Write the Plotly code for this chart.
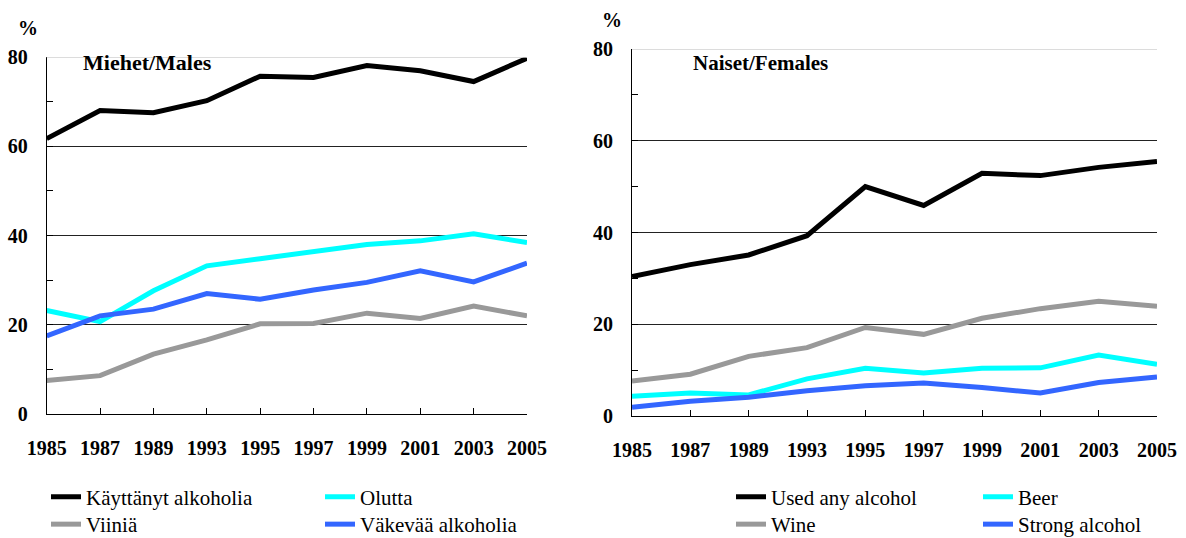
import plotly.graph_objects as go

years = ["1985", "1987", "1989", "1993", "1995", "1997", "1999", "2001", "2003", "2005"]

# Males (Miehet)
m_any = [61.7, 68.0, 67.5, 70.2, 75.7, 75.4, 78.1, 76.9, 74.5, 79.7]
m_beer = [23.2, 20.7, 27.6, 33.2, 34.8, 36.5, 38.0, 38.8, 40.4, 38.4]
m_wine = [7.5, 8.6, 13.4, 16.6, 20.2, 20.3, 22.6, 21.4, 24.2, 22.0]
m_strong = [17.5, 22.0, 23.5, 27.0, 25.7, 27.8, 29.5, 32.1, 29.6, 33.8]

# Females (Naiset)
f_any = [30.4, 33.0, 35.1, 39.3, 50.0, 45.9, 52.9, 52.4, 54.2, 55.5]
f_beer = [4.3, 5.0, 4.6, 8.1, 10.4, 9.4, 10.4, 10.5, 13.3, 11.3]
f_wine = [7.6, 9.1, 13.0, 14.9, 19.3, 17.8, 21.3, 23.4, 25.0, 23.9]
f_strong = [1.9, 3.2, 4.1, 5.5, 6.6, 7.2, 6.2, 5.0, 7.3, 8.5]

labels_fi = ["Käyttänyt alkoholia", "Olutta", "Viiniä", "Väkevää alkoholia"]
labels_en = ["Used any alcohol", "Beer", "Wine", "Strong alcohol"]

C_ANY = "#000000"
C_BEER = "#00FFFF"
C_WINE = "#999999"
C_STRONG = "#3366FF"

SERIF = "Liberation Serif, Times New Roman, serif"
W, H = 1186, 538

fig = go.Figure()

def add(x, y, name, color, xa, ya, legend):
    fig.add_trace(go.Scatter(
        x=x, y=y, name=name, mode="lines",
        line=dict(color=color, width=5),
        xaxis=xa, yaxis=ya, legend=legend, showlegend=True,
        hoverinfo="skip",
    ))

# Left (males)
add(years, m_any, labels_fi[0], C_ANY, "x", "y", "legend")
add(years, m_beer, labels_fi[1], C_BEER, "x", "y", "legend2")
add(years, m_wine, labels_fi[2], C_WINE, "x", "y", "legend3")
add(years, m_strong, labels_fi[3], C_STRONG, "x", "y", "legend4")
# Right (females)
add(years, f_any, labels_en[0], C_ANY, "x2", "y2", "legend5")
add(years, f_beer, labels_en[1], C_BEER, "x2", "y2", "legend6")
add(years, f_wine, labels_en[2], C_WINE, "x2", "y2", "legend7")
add(years, f_strong, labels_en[3], C_STRONG, "x2", "y2", "legend8")

tickfont = dict(family=SERIF, size=20, color="#000000", weight="bold")

def xaxis(domain, anchor):
    return dict(
        domain=domain, anchor=anchor, type="category",
        range=[0, len(years) - 1],
        showgrid=False, zeroline=False,
        showline=True, linecolor="#000000", linewidth=1,
        ticks="inside", ticklen=6, tickcolor="#000000", tickwidth=1,
        tickfont=tickfont, ticklabelstandoff=16,
        fixedrange=True,
    )

def yaxis(domain, anchor):
    return dict(
        domain=domain, anchor=anchor,
        range=[0, 80], dtick=20, tick0=0,
        showgrid=True, gridcolor="#222222", gridwidth=1,
        zeroline=False,
        showline=True, linecolor="#000000", linewidth=1,
        ticks="inside", ticklen=6, tickcolor="#000000", tickwidth=1,
        minor=dict(dtick=10, ticks="inside", ticklen=6, tickcolor="#000000", showgrid=False),
        tickfont=tickfont, ticklabelstandoff=14,
        fixedrange=True,
    )

lx = [46.7 / W, 527 / W]
ly = [(H - 414) / H, (H - 57) / H]
rx = [632 / W, 1157 / W]
ry = [(H - 416) / H, (H - 49) / H]

legfont = dict(family=SERIF, size=21, color="#000000")

def legend(xpx, ypx):
    return dict(
        x=xpx / W, y=(H - ypx) / H, xanchor="left", yanchor="middle",
        orientation="v", font=legfont, bgcolor="rgba(0,0,0,0)",
        borderwidth=0, visible=True,
        itemclick=False, itemdoubleclick=False,
    )

ROW1, ROW2 = 497, 524.5
ann_font = dict(family=SERIF, size=21, color="#000000", weight="bold")
annotations = [
    dict(text="%", x=28 / W, y=(H - 28) / H, xref="paper", yref="paper",
         showarrow=False, xanchor="center", yanchor="middle",
         font=dict(family=SERIF, size=20, color="#000000", weight="bold")),
    dict(text="%", x=612 / W, y=(H - 20) / H, xref="paper", yref="paper",
         showarrow=False, xanchor="center", yanchor="middle",
         font=dict(family=SERIF, size=20, color="#000000", weight="bold")),
    dict(text="Miehet/Males", x=81 / W, y=(H - 62) / H, xref="paper", yref="paper",
         showarrow=False, xanchor="left", yanchor="middle",
         font=dict(family=SERIF, size=22, color="#000000", weight="bold")),
    dict(text="Naiset/Females", x=691 / W, y=(H - 63) / H, xref="paper", yref="paper",
         showarrow=False, xanchor="left", yanchor="middle", font=ann_font),
]

shapes = [
    dict(type="line", xref="x domain", yref="y", x0=0, x1=1, y0=80, y1=80,
         line=dict(color="#d0d0d0", width=1.5), layer="above"),
    dict(type="line", xref="x2 domain", yref="y2", x0=0, x1=1, y0=80, y1=80,
         line=dict(color="#d0d0d0", width=1.5), layer="above"),
]

fig.update_layout(
    width=W, height=H,
    showlegend=True,
    margin=dict(l=0, r=0, t=0, b=0, autoexpand=False),
    paper_bgcolor="#ffffff", plot_bgcolor="#ffffff",
    font=dict(family=SERIF, color="#000000"),
    xaxis=xaxis(lx, "y"), yaxis=yaxis(ly, "x"),
    xaxis2=xaxis(rx, "y2"), yaxis2=yaxis(ry, "x2"),
    legend=legend(46, ROW1),
    legend2=legend(320, ROW1),
    legend3=legend(46, ROW2),
    legend4=legend(320, ROW2),
    legend5=legend(731, ROW1),
    legend6=legend(978, ROW1),
    legend7=legend(731, ROW2),
    legend8=legend(978, ROW2),
    annotations=annotations,
    shapes=shapes,
    hovermode=False,
)

fig.write_html("out.html", config={"displayModeBar": False},
               post_script="document.body.style.margin='0';")
